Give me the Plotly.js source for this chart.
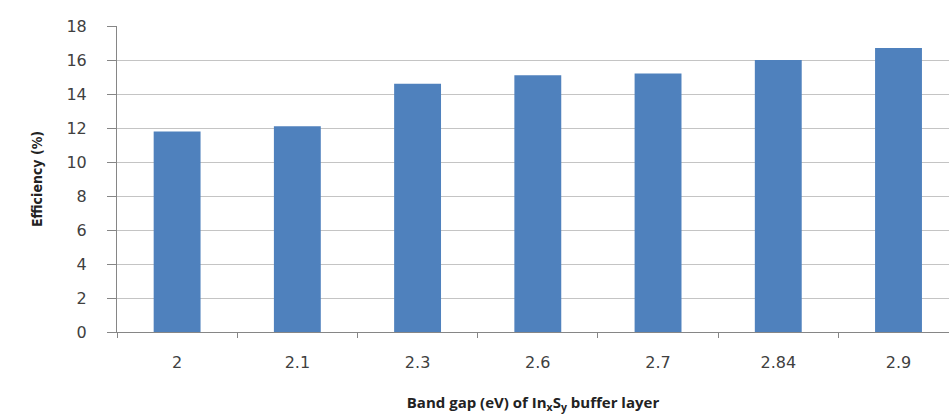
<!DOCTYPE html>
<html><head><meta charset="utf-8">
<script src="https://cdn.plot.ly/plotly-3.0.1.min.js"></script>
<style>html,body{margin:0;padding:0;background:#fff;overflow:hidden}</style>
</head><body>
<div id="chart" style="width:949px;height:414px"></div>
<script>
const bandGaps = ["2", "2.1", "2.3", "2.6", "2.7", "2.84", "2.9"];
const efficiency = [11.8, 12.1, 14.6, 15.1, 15.2, 16.0, 16.7];
const yTicks = [0, 2, 4, 6, 8, 10, 12, 14, 16, 18];

const trace = {
  type: 'bar',
  x: bandGaps,
  y: efficiency,
  marker: {color: '#4f81bd'},
  hoverinfo: 'x+y'
};

const layout = {
  width: 949, height: 414,
  margin: {l: 117, r: 0, t: 26, b: 82},
  paper_bgcolor: '#ffffff', plot_bgcolor: '#ffffff',
  bargap: 0.61,
  showlegend: false,
  xaxis: {
    type: 'category',
    range: [-0.5, 6.42],
    showline: true, linecolor: '#868686', linewidth: 1,
    ticks: 'outside', tickson: 'boundaries', ticklen: 5, tickcolor: '#868686', tickwidth: 1,
    ticklabelstandoff: 16,
    showgrid: false,
    tickfont: {family: 'DejaVu Sans, sans-serif', size: 16, color: '#404040'},
    title: {text: '<b>Band gap (eV) of In<sub>x</sub>S<sub>y</sub> buffer layer</b>',
            font: {family: 'Open Sans, sans-serif', size: 15, color: '#222'}, standoff: 26}
  },
  yaxis: {
    range: [0, 18],
    tickvals: yTicks,
    showline: true, linecolor: '#868686', linewidth: 1,
    ticks: 'outside', ticklen: 9, tickcolor: '#868686', tickwidth: 1,
    ticklabelstandoff: 17,
    showgrid: true, gridcolor: '#c4c4c4', gridwidth: 1,
    zeroline: false,
    tickfont: {family: 'DejaVu Sans, sans-serif', size: 16, color: '#404040'},
    title: {text: '<b>Efficiency (%)</b>',
            font: {family: 'Liberation Sans Narrow, DejaVu Sans Condensed, sans-serif', size: 14, color: '#222'}, standoff: 20}
  }
};

Plotly.newPlot('chart', [trace], layout, {displayModeBar: false, staticPlot: true});
</script>
</body></html>
